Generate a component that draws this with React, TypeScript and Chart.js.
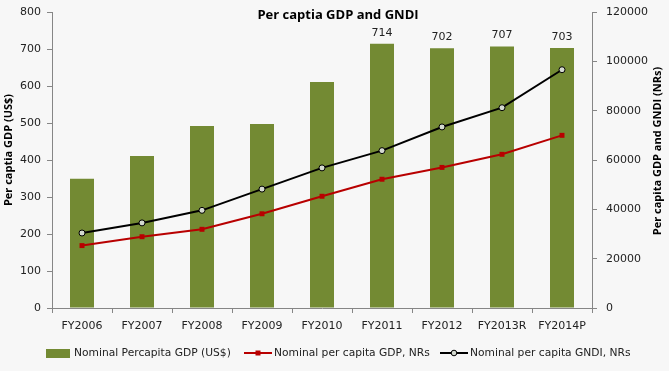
import React, { useEffect, useRef } from 'react';
import { Chart, registerables } from 'chart.js';

Chart.register(...registerables);

const categories = ['FY2006', 'FY2007', 'FY2008', 'FY2009', 'FY2010', 'FY2011', 'FY2012', 'FY2013R', 'FY2014P'];
const gdpUSD = [349, 411, 492, 497, 611, 714, 702, 707, 703];
const gdpNRs = [25300, 28900, 31900, 38200, 45300, 52200, 57000, 62300, 70000];
const gndiNRs = [30400, 34500, 39600, 48200, 56800, 63800, 73400, 81200, 96600];
const labelFromIndex = 5;

const titleText = 'Per captia GDP and GNDI';
const leftTitle = 'Per captia GDP (US$)';
const rightTitle = 'Per capita GDP and GNDI (NRs)';
const legendLabels = ['Nominal Percapita GDP (US$)', 'Nominal per capita GDP, NRs', 'Nominal per capita GNDI, NRs'];

const GREEN = '#738a33';
const RED = '#b80000';
const BLACK = '#000000';
const MARKER_FILL = '#d4dad0';
const AXIS = '#868686';
const TEXT = '#222222';
const BG = '#f7f7f7';
const FONT = '"DejaVu Sans", Verdana, sans-serif';
const BOLD = '"Open Sans", "DejaVu Sans", sans-serif';

const decorPlugin = {
  id: 'decor',
  beforeDraw(chart: any) {
    const { ctx, width, height } = chart;
    ctx.save();
    ctx.fillStyle = BG;
    ctx.fillRect(0, 0, width, height);
    ctx.restore();
  },
  afterDatasetsDraw(chart: any) {
    const { ctx } = chart;
    const meta = chart.getDatasetMeta(0);
    ctx.save();
    ctx.font = '11px ' + FONT;
    ctx.fillStyle = TEXT;
    ctx.textAlign = 'center';
    ctx.textBaseline = 'middle';
    meta.data.forEach((bar: any, i: number) => {
      if (i >= labelFromIndex) {
        ctx.fillText(String(gdpUSD[i]), bar.x, bar.y - 11);
      }
    });
    ctx.restore();
  },
  afterDraw(chart: any) {
    const { ctx } = chart;
    ctx.save();
    ctx.fillStyle = '#000';
    ctx.textAlign = 'center';
    ctx.textBaseline = 'middle';
    ctx.font = 'bold 13px ' + BOLD;
    ctx.fillText(titleText, 338, 15);

    ctx.font = 'bold 11px ' + BOLD;
    ctx.save();
    ctx.translate(9, 150);
    ctx.rotate(-Math.PI / 2);
    ctx.fillText(leftTitle, 0, 0);
    ctx.restore();
    ctx.save();
    ctx.translate(658, 151);
    ctx.rotate(-Math.PI / 2);
    ctx.fillText(rightTitle, 0, 0);
    ctx.restore();

    // legend
    const ly = 353;
    ctx.font = '10.7px ' + FONT;
    ctx.textAlign = 'left';
    ctx.fillStyle = GREEN;
    ctx.fillRect(46, ly - 4, 24, 9);
    ctx.fillStyle = TEXT;
    ctx.fillText(legendLabels[0], 74, ly);

    ctx.strokeStyle = RED;
    ctx.lineWidth = 2;
    ctx.beginPath();
    ctx.moveTo(244, ly);
    ctx.lineTo(272, ly);
    ctx.stroke();
    ctx.fillStyle = RED;
    ctx.fillRect(255.5, ly - 2.5, 5, 5);
    ctx.fillStyle = TEXT;
    ctx.fillText(legendLabels[1], 274, ly);

    ctx.strokeStyle = BLACK;
    ctx.beginPath();
    ctx.moveTo(440, ly);
    ctx.lineTo(468, ly);
    ctx.stroke();
    ctx.beginPath();
    ctx.arc(454, ly, 2.8, 0, Math.PI * 2);
    ctx.fillStyle = MARKER_FILL;
    ctx.fill();
    ctx.lineWidth = 1;
    ctx.stroke();
    ctx.fillStyle = TEXT;
    ctx.fillText(legendLabels[2], 470, ly);
    ctx.restore();
  },
};

export default function App() {
  const ref = useRef<HTMLCanvasElement>(null);
  useEffect(() => {
    if (!ref.current) return;
    const chart = new Chart(ref.current, {
      type: 'bar',
      data: {
        labels: categories,
        datasets: [
          {
            type: 'bar',
            label: legendLabels[0],
            data: gdpUSD,
            backgroundColor: GREEN,
            yAxisID: 'y',
            barPercentage: 0.4,
            categoryPercentage: 1,
            order: 3,
          },
          {
            type: 'line',
            label: legendLabels[1],
            data: gdpNRs,
            borderColor: RED,
            backgroundColor: RED,
            borderWidth: 2,
            pointStyle: 'rect',
            pointRadius: 3.5,
            pointBorderWidth: 0,
            tension: 0,
            yAxisID: 'y1',
            order: 1,
          },
          {
            type: 'line',
            label: legendLabels[2],
            data: gndiNRs,
            borderColor: BLACK,
            backgroundColor: MARKER_FILL,
            borderWidth: 2,
            pointStyle: 'circle',
            pointRadius: 3,
            pointBorderWidth: 1,
            pointBorderColor: BLACK,
            tension: 0,
            yAxisID: 'y1',
            order: 0,
          },
        ] as any,
      },
      options: {
        responsive: false,
        animation: false,
        layout: { padding: { top: 12, bottom: 0, left: 0, right: 0 } },
        plugins: {
          legend: { display: false },
          title: { display: false },
          tooltip: { enabled: false },
        },
        scales: {
          x: {
            offset: true,
            grid: { offset: true, drawOnChartArea: false, tickLength: 5, color: AXIS },
            border: { display: true, color: AXIS },
            ticks: { color: TEXT, font: { family: FONT, size: 11 }, padding: 7, maxRotation: 0, autoSkip: false },
            afterFit: (s: any) => { s.height = 63; },
          },
          y: {
            position: 'left',
            min: 0,
            max: 800,
            grid: { drawOnChartArea: false, tickLength: 5, color: AXIS },
            border: { display: true, color: AXIS },
            ticks: { stepSize: 100, color: TEXT, font: { family: FONT, size: 11 }, padding: 6 },
            afterFit: (s: any) => { s.width = 52; s.paddingTop = 4; s.paddingBottom = 4; },
          },
          y1: {
            position: 'right',
            min: 0,
            max: 120000,
            grid: { drawOnChartArea: false, tickLength: 5, color: AXIS },
            border: { display: true, color: AXIS },
            ticks: {
              stepSize: 20000,
              color: TEXT,
              font: { family: FONT, size: 11 },
              padding: 9,
              callback: (v: any) => String(v),
            },
            afterFit: (s: any) => { s.width = 77; s.paddingTop = 4; s.paddingBottom = 4; },
          },
        },
      },
      plugins: [decorPlugin],
    });
    return () => chart.destroy();
  }, []);
  return (
    <div style={{ position: 'absolute', left: 0, top: 0, width: 669, height: 371, background: BG }}>
      <canvas ref={ref} width={669} height={371} style={{ display: 'block' }} />
    </div>
  );
}
